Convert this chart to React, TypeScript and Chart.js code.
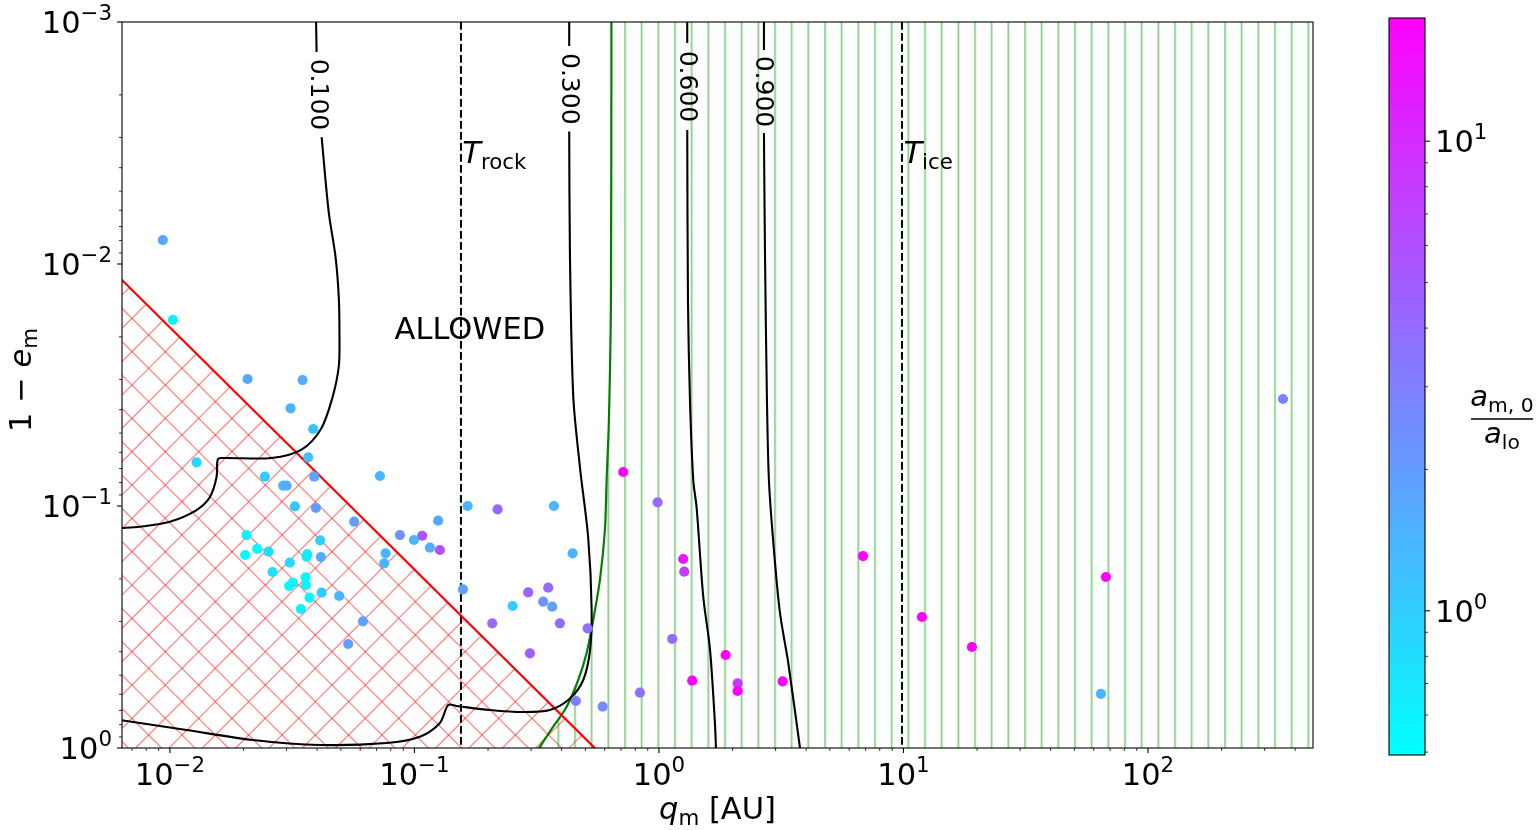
import React, { useEffect, useRef } from 'react';
import { Chart, registerables } from 'chart.js';

Chart.register(...registerables);

// ---------------- axis ranges & ticks ----------------
const Q_MIN = 0.00637;
const Q_MAX = 473;
const E_MIN = 0.001;
const E_MAX = 1;
const RATIO_MIN = 0.493;
const RATIO_MAX = 18.3;

const X_MAJOR = [0.01, 0.1, 1, 10, 100];
const X_MAJOR_EXP = ['−2', '−1', '0', '1', '2'];
const Y_MAJOR = [0.001, 0.01, 0.1, 1];
const Y_MAJOR_EXP = ['−3', '−2', '−1', '0'];
const C_MAJOR = [1, 10];
const C_MAJOR_EXP = ['0', '1'];

// ---------------- scatter points ----------------
const pointQ = [
  0.00936, 0.01029, 0.02078, 0.03489, 0.03116, 0.03856, 0.01286, 0.03678, 0.02446, 0.03892,
  0.07226, 0.02907, 0.03002, 0.03245, 0.03955, 0.1651, 0.05673, 0.02059, 0.08724, 0.1076,
  0.09954, 0.1251, 0.1157, 0.1271, 0.02275, 0.02032, 0.02533, 0.04119, 0.04146, 0.07625,
  0.07525, 0.03095, 0.03644, 0.03623, 0.0263, 0.03589, 0.03184, 0.03075, 0.03599, 0.04174,
  0.03727, 0.04926, 0.03434, 0.1579, 0.06157, 0.05361, 0.2189, 0.372, 0.9878, 0.4436,
  1.257, 1.269, 0.3525, 0.292, 0.3363, 0.3662, 0.2522, 0.2081, 0.3936, 0.511,
  1.1335, 0.2968, 1.8744, 1.368, 2.098, 2.098, 3.206, 0.8362, 0.4576, 0.5886,
  0.7145, 6.83, 67.3, 11.9, 19.06, 64.2, 356.6,
];
const pointE = [
  0.00796, 0.01703, 0.02987, 0.03016, 0.03947, 0.04806, 0.06597, 0.06291, 0.07566, 0.07566,
  0.07516, 0.08244, 0.08244, 0.1003, 0.1019, 0.1, 0.1161, 0.1318, 0.1318, 0.1327,
  0.1382, 0.115, 0.1487, 0.152, 0.1505, 0.1594, 0.1545, 0.1386, 0.1625, 0.1569,
  0.1725, 0.1715, 0.1579, 0.162, 0.1874, 0.197, 0.2074, 0.2141, 0.2121, 0.2282,
  0.2393, 0.2354, 0.2665, 0.2209, 0.2996, 0.3717, 0.1032, 0.1, 0.09654, 0.1569,
  0.1656, 0.1868, 0.2176, 0.2273, 0.2486, 0.2606, 0.2589, 0.3053, 0.3053, 0.3202,
  0.3544, 0.4061, 0.4127, 0.5271, 0.5403, 0.5814, 0.5302, 0.5908, 0.6394, 0.675,
  0.07237, 0.161, 0.1965, 0.2875, 0.3825, 0.598, 0.03613,
];
const pointRatio = [
  1.7, 0.6, 1.7, 1.6, 1.4, 1.2, 0.9, 1.2, 1.0, 1.8,
  1.4, 1.5, 1.6, 1.1, 1.9, 1.4, 1.9, 0.58, 2.2, 5.5,
  1.4, 1.7, 1.6, 6.0, 0.52, 0.55, 0.85, 1.0, 1.6, 1.4,
  1.4, 0.85, 0.65, 0.65, 0.75, 0.56, 0.56, 0.52, 0.58, 1.0,
  0.56, 1.4, 0.62, 1.9, 1.8, 1.9, 4.3, 1.4, 4.1, 1.4,
  13, 8.0, 4.1, 4.3, 2.2, 1.9, 1.0, 4.1, 4.1, 3.8,
  4.1, 4.6, 18, 18, 8.0, 18, 18, 3.6, 3.0, 2.5,
  18, 18, 18, 18, 18, 1.4, 2.9,
];

// ---------------- contour lines (null = label gap) ----------------
const c010Q = [0.03955, 0.0398, 0.04, 0.04174, 0.04462, 0.0476, 0.04905, 0.04937, 0.04905, 0.04604, 0.04148, 0.03454, 0.02602, 0.01622, 0.01567, 0.01552, 0.01458, 0.01286, 0.01, 0.00754, 0.00636, 0.006];
const c010E = [0.0009, 0.00133, null, 0.00299, 0.0061, 0.00938, 0.01369, 0.01962, 0.02654, 0.03612, 0.04805, 0.05848, 0.06334, 0.06334, 0.06457, 0.07591, 0.0918, 0.1039, 0.1161, 0.1218, 0.1233, 0.1235];
const c030Q = [0.4296, 0.4296, 0.4296, 0.4296, 0.4325, 0.4462, 0.4752, 0.5138, 0.5305, 0.5222, 0.4903, 0.4325, 0.3582, 0.2779, 0.2036, 0.1488, 0.1375, 0.1271, 0.1053, 0.07697, 0.04108, 0.02185, 0.0117, 0.00644, 0.006];
const c030E = [0.0009, 0.001257, null, 0.002837, 0.009094, 0.03512, 0.06901, 0.1356, 0.2665, 0.3973, 0.5236, 0.6244, 0.6966, 0.7101, 0.6966, 0.6706, 0.6643, 0.7883, 0.8981, 0.9535, 0.9719, 0.9266, 0.8425, 0.7698, 0.765];
const c060Q = [1.3055, 1.3055, 1.3055, 1.3055, 1.3143, 1.3393, 1.3815, 1.4264, 1.5177, 1.6167, 1.6943, 1.7106, 1.713];
const c060E = [0.0009, 0.001221, null, 0.002794, 0.01408, 0.03648, 0.07808, 0.1019, 0.237, 0.3896, 0.7891, 1.0, 1.1];
const c090Q = [2.688, 2.688, 2.688, 2.688, 2.714, 2.765, 2.82, 2.95, 3.126, 3.38, 3.774, 3.85];
const c090E = [0.0009, 0.001305, null, 0.002875, 0.00875, 0.03648, 0.08, 0.15, 0.2767, 0.4455, 1.0, 1.15];

const contourLabelText = ['0.100', '0.300', '0.600', '0.900'];
const contourLabelQ = [0.0407, 0.4296, 1.3055, 2.688];
const contourLabelE = [0.001993, 0.001888, 0.001847, 0.001937];

// ---------------- boundaries ----------------
const redLineQ = [0.005, 0.656];
const redLineE = [0.00914, 1.2];
const redRegionQ = [0.005, 0.656, 0.005];
const redRegionE = [0.00914, 1.2, 1.2];

const greenCurveQ = [0.6393, 0.6363, 0.6243, 0.611, 0.6013, 0.5737, 0.5385, 0.5062, 0.4676, 0.4194, 0.3695, 0.3261, 0.2818];
const greenCurveE = [0.0009, 0.01408, 0.04411, 0.07808, 0.1257, 0.2021, 0.2958, 0.4049, 0.5236, 0.675, 0.8166, 0.9877, 1.23];

const T_ROCK = 0.155;
const T_ICE = 9.86;
const T_LINE_E = [0.0009, 1.1];

// ---------------- text annotations ----------------
const allowedQ = 0.1686;
const allowedE = 0.0204;
const tRockLabelQ = 0.157;
const tIceLabelQ = 10.0;
const tLabelE = 0.00383;

// ---------------- helpers ----------------
const FF = '"DejaVu Sans", "Liberation Sans", sans-serif';
const fnt = (size: number, italic = false) => `${italic ? 'italic ' : ''}${size}px ${FF}`;
const BASE = 30.5;

type Seg = { t: string; it?: boolean; sh?: 'sup' | 'sub' };

function segWidths(ctx: CanvasRenderingContext2D, segs: Seg[], size: number) {
  return segs.map((s) => {
    ctx.font = fnt(s.sh ? size * 0.7 : size, !!s.it);
    return ctx.measureText(s.t).width;
  });
}

function drawRich(
  ctx: CanvasRenderingContext2D,
  segs: Seg[],
  x: number,
  y: number,
  size: number,
  align: 'left' | 'center' | 'right'
) {
  const w = segWidths(ctx, segs, size);
  const total = w.reduce((a, b) => a + b, 0);
  let cx = align === 'left' ? x : align === 'center' ? x - total / 2 : x - total;
  ctx.textAlign = 'left';
  ctx.textBaseline = 'alphabetic';
  segs.forEach((s, i) => {
    ctx.font = fnt(s.sh ? size * 0.7 : size, !!s.it);
    const dy = s.sh === 'sup' ? -size * 0.43 : s.sh === 'sub' ? size * 0.2 : 0;
    ctx.fillText(s.t, cx, y + dy);
    cx += w[i];
  });
}

function logTicks(min: number, max: number) {
  const out: { v: number; major: boolean }[] = [];
  for (let d = Math.floor(Math.log10(min)); d <= Math.ceil(Math.log10(max)); d++) {
    for (let m = 1; m <= 9; m++) {
      const v = m * Math.pow(10, d);
      if (v >= min * 0.9999 && v <= max * 1.0001) out.push({ v, major: m === 1 });
    }
  }
  return out;
}

function coolColor(v: number): string {
  const t = Math.min(
    1,
    Math.max(0, (Math.log10(v) - Math.log10(RATIO_MIN)) / (Math.log10(RATIO_MAX) - Math.log10(RATIO_MIN)))
  );
  return `rgb(${Math.round(255 * t)}, ${Math.round(255 * (1 - t))}, 255)`;
}

const zip = (qs: number[], es: (number | null)[]) => qs.map((q, i) => ({ x: q, y: es[i] }));

function lineDs(data: any[], color: string, width = 2, dash: number[] = [], tension = 0.3) {
  return {
    type: 'scatter' as const,
    data,
    showLine: true,
    pointRadius: 0,
    pointHoverRadius: 0,
    borderColor: color,
    backgroundColor: color,
    borderWidth: width,
    borderDash: dash,
    tension,
    fill: false,
    spanGaps: false,
    order: 2,
  };
}

function makeCrossPattern(ctx: CanvasRenderingContext2D) {
  const c = document.createElement('canvas');
  c.width = 100;
  c.height = 100;
  const g = c.getContext('2d')!;
  g.strokeStyle = 'rgba(255,0,0,0.5)';
  g.lineWidth = 1.2;
  const s = 100 / 3;
  for (let k = -9; k <= 9; k++) {
    const cc = k * s;
    g.beginPath();
    g.moveTo(cc - 20, -20);
    g.lineTo(cc + 120, 120);
    g.stroke();
    g.beginPath();
    g.moveTo(cc + 20, -20);
    g.lineTo(cc - 120, 120);
    g.stroke();
  }
  const p = ctx.createPattern(c, 'repeat')!;
  p.setTransform(new DOMMatrix().translate(132, 585));
  return p;
}

function makeVertPattern(ctx: CanvasRenderingContext2D) {
  const c = document.createElement('canvas');
  c.width = 50;
  c.height = 50;
  const g = c.getContext('2d')!;
  g.strokeStyle = 'rgba(0,150,0,0.55)';
  g.lineWidth = 1.5;
  [50 / 6, 25, 250 / 6].forEach((x) => {
    g.beginPath();
    g.moveTo(x, -5);
    g.lineTo(x, 55);
    g.stroke();
  });
  const p = ctx.createPattern(c, 'repeat')!;
  p.setTransform(new DOMMatrix().translate(2800 / 3, 0));
  return p;
}

export default function App() {
  const ref = useRef<HTMLCanvasElement>(null);

  useEffect(() => {
    const canvas = ref.current!;
    const ctx0 = canvas.getContext('2d')!;
    const redPat = makeCrossPattern(ctx0);
    const greenPat = makeVertPattern(ctx0);

    const CB = { left: 1389, right: 1425, top: 18, bottom: 755 };
    const cbY = (v: number) =>
      CB.bottom -
      ((Math.log10(v) - Math.log10(RATIO_MIN)) / (Math.log10(RATIO_MAX) - Math.log10(RATIO_MIN))) *
        (CB.bottom - CB.top);

    const plugin = {
      id: 'mplDecor',
      beforeDatasetsDraw(chart: any) {
        const { ctx, chartArea: a, scales } = chart;
        const xs = scales.x;
        const ys = scales.y;
        const region = (qs: number[], es: number[], pat: CanvasPattern) => {
          ctx.beginPath();
          qs.forEach((q, i) => {
            const px = xs.getPixelForValue(q);
            const py = ys.getPixelForValue(es[i]);
            if (i === 0) ctx.moveTo(px, py);
            else ctx.lineTo(px, py);
          });
          ctx.closePath();
          ctx.fillStyle = pat;
          ctx.fill();
        };
        ctx.save();
        ctx.beginPath();
        ctx.rect(a.left, a.top, a.right - a.left, a.bottom - a.top);
        ctx.clip();
        region(redRegionQ, redRegionE, redPat);
        region(
          [...greenCurveQ, Q_MAX * 2, Q_MAX * 2],
          [...greenCurveE, E_MAX * 1.3, E_MIN * 0.9],
          greenPat
        );
        ctx.restore();
      },
      afterDatasetsDraw(chart: any) {
        const { ctx, scales } = chart;
        const xs = scales.x;
        const ys = scales.y;
        ctx.save();
        ctx.fillStyle = '#000';
        // contour labels
        contourLabelText.forEach((t, i) => {
          const px = xs.getPixelForValue(contourLabelQ[i]);
          const py = ys.getPixelForValue(contourLabelE[i]);
          ctx.save();
          ctx.translate(px, py);
          ctx.rotate(Math.PI / 2);
          ctx.font = fnt(25);
          ctx.textAlign = 'center';
          ctx.textBaseline = 'middle';
          ctx.fillText(t, 0, 1);
          ctx.restore();
        });
        // ALLOWED
        ctx.font = fnt(BASE);
        ctx.textAlign = 'center';
        ctx.textBaseline = 'alphabetic';
        ctx.fillText('ALLOWED', xs.getPixelForValue(allowedQ), ys.getPixelForValue(allowedE));
        // T labels
        drawRich(ctx, [{ t: 'T', it: true }, { t: 'rock', sh: 'sub' }], xs.getPixelForValue(tRockLabelQ), ys.getPixelForValue(tLabelE), BASE, 'left');
        drawRich(ctx, [{ t: 'T', it: true }, { t: 'ice', sh: 'sub' }], xs.getPixelForValue(tIceLabelQ), ys.getPixelForValue(tLabelE), BASE, 'left');
        ctx.restore();
      },
      afterDraw(chart: any) {
        const { ctx, chartArea: a, scales } = chart;
        const xs = scales.x;
        const ys = scales.y;
        ctx.save();
        ctx.strokeStyle = '#000';
        ctx.fillStyle = '#000';
        // frame
        ctx.lineWidth = 1.1;
        ctx.strokeRect(a.left, a.top, a.right - a.left, a.bottom - a.top);
        // x ticks
        logTicks(Q_MIN, Q_MAX).forEach(({ v, major }) => {
          const px = xs.getPixelForValue(v);
          ctx.lineWidth = major ? 1.1 : 0.8;
          ctx.beginPath();
          ctx.moveTo(px, a.bottom);
          ctx.lineTo(px, a.bottom + (major ? 5 : 3));
          ctx.stroke();
        });
        // y ticks
        logTicks(E_MIN, E_MAX).forEach(({ v, major }) => {
          const py = ys.getPixelForValue(v);
          ctx.lineWidth = major ? 1.1 : 0.8;
          ctx.beginPath();
          ctx.moveTo(a.left, py);
          ctx.lineTo(a.left - (major ? 5 : 3), py);
          ctx.stroke();
        });
        // tick labels
        X_MAJOR.forEach((v, i) => {
          drawRich(ctx, [{ t: '10' }, { t: X_MAJOR_EXP[i], sh: 'sup' }], xs.getPixelForValue(v), 785, BASE, 'center');
        });
        Y_MAJOR.forEach((v, i) => {
          drawRich(ctx, [{ t: '10' }, { t: Y_MAJOR_EXP[i], sh: 'sup' }], a.left - 10, ys.getPixelForValue(v) + 11, BASE, 'right');
        });
        // axis titles
        drawRich(ctx, [{ t: 'q', it: true }, { t: 'm', sh: 'sub' }, { t: ' [AU]' }], (a.left + a.right) / 2, 819, BASE, 'center');
        ctx.save();
        ctx.translate(31, 380);
        ctx.rotate(-Math.PI / 2);
        drawRich(ctx, [{ t: '1 − ' }, { t: 'e', it: true }, { t: 'm', sh: 'sub' }], 0, 0, BASE, 'center');
        ctx.restore();

        // colorbar
        const grad = ctx.createLinearGradient(0, CB.bottom, 0, CB.top);
        grad.addColorStop(0, coolColor(RATIO_MIN));
        grad.addColorStop(1, coolColor(RATIO_MAX));
        ctx.fillStyle = grad;
        ctx.fillRect(CB.left, CB.top, CB.right - CB.left, CB.bottom - CB.top);
        ctx.lineWidth = 1.1;
        ctx.strokeStyle = '#000';
        ctx.strokeRect(CB.left, CB.top, CB.right - CB.left, CB.bottom - CB.top);
        ctx.fillStyle = '#000';
        logTicks(RATIO_MIN, RATIO_MAX).forEach(({ v, major }) => {
          const py = cbY(v);
          ctx.lineWidth = major ? 1.1 : 0.8;
          ctx.beginPath();
          ctx.moveTo(CB.right, py);
          ctx.lineTo(CB.right + (major ? 5 : 3), py);
          ctx.stroke();
        });
        C_MAJOR.forEach((v, i) => {
          drawRich(ctx, [{ t: '10' }, { t: C_MAJOR_EXP[i], sh: 'sup' }], CB.right + 10, cbY(v) + 11, BASE, 'left');
        });
        // colorbar label (fraction)
        const fx = 1502;
        drawRich(ctx, [{ t: 'a', it: true }, { t: 'm, 0', sh: 'sub' }], fx, 406, 29, 'center');
        drawRich(ctx, [{ t: 'a', it: true }, { t: 'lo', sh: 'sub' }], fx, 443, 29, 'center');
        ctx.lineWidth = 1.3;
        ctx.beginPath();
        ctx.moveTo(1471, 419);
        ctx.lineTo(1533, 419);
        ctx.stroke();
        ctx.restore();
      },
    };

    const chart = new Chart(canvas, {
      type: 'scatter',
      data: {
        datasets: [
          {
            type: 'scatter',
            data: zip(pointQ, pointE),
            backgroundColor: pointRatio.map(coolColor),
            pointBackgroundColor: pointRatio.map(coolColor),
            pointRadius: 5.1,
            pointHoverRadius: 5.1,
            pointBorderWidth: 0,
            borderWidth: 0,
            order: 0,
          } as any,
          lineDs(zip(c010Q, c010E), '#000', 2.1),
          lineDs(zip(c030Q, c030E), '#000', 2.1),
          lineDs(zip(c060Q, c060E), '#000', 2.1),
          lineDs(zip(c090Q, c090E), '#000', 2.1),
          lineDs(zip(redLineQ, redLineE), '#ff0000', 2.2, [], 0),
          lineDs(zip(greenCurveQ, greenCurveE), '#008000', 2.2),
          lineDs(zip([T_ROCK, T_ROCK], T_LINE_E), '#000', 2, [7.7, 3.3], 0),
          lineDs(zip([T_ICE, T_ICE], T_LINE_E), '#000', 2, [7.7, 3.3], 0),
        ],
      },
      options: {
        responsive: false,
        animation: false,
        devicePixelRatio: 1,
        events: [],
        layout: { padding: { left: 122, top: 22, right: 227, bottom: 82 } },
        plugins: { legend: { display: false }, tooltip: { enabled: false } },
        scales: {
          x: { type: 'logarithmic', min: Q_MIN, max: Q_MAX, display: false },
          y: { type: 'logarithmic', min: E_MIN, max: E_MAX, reverse: true, display: false },
        },
      },
      plugins: [plugin],
    });

    return () => chart.destroy();
  }, []);

  return (
    <div style={{ position: 'absolute', left: 0, top: 0, width: 1540, height: 830, background: '#fff' }}>
      <canvas ref={ref} width={1540} height={830} style={{ width: 1540, height: 830, display: 'block' }} />
    </div>
  );
}
